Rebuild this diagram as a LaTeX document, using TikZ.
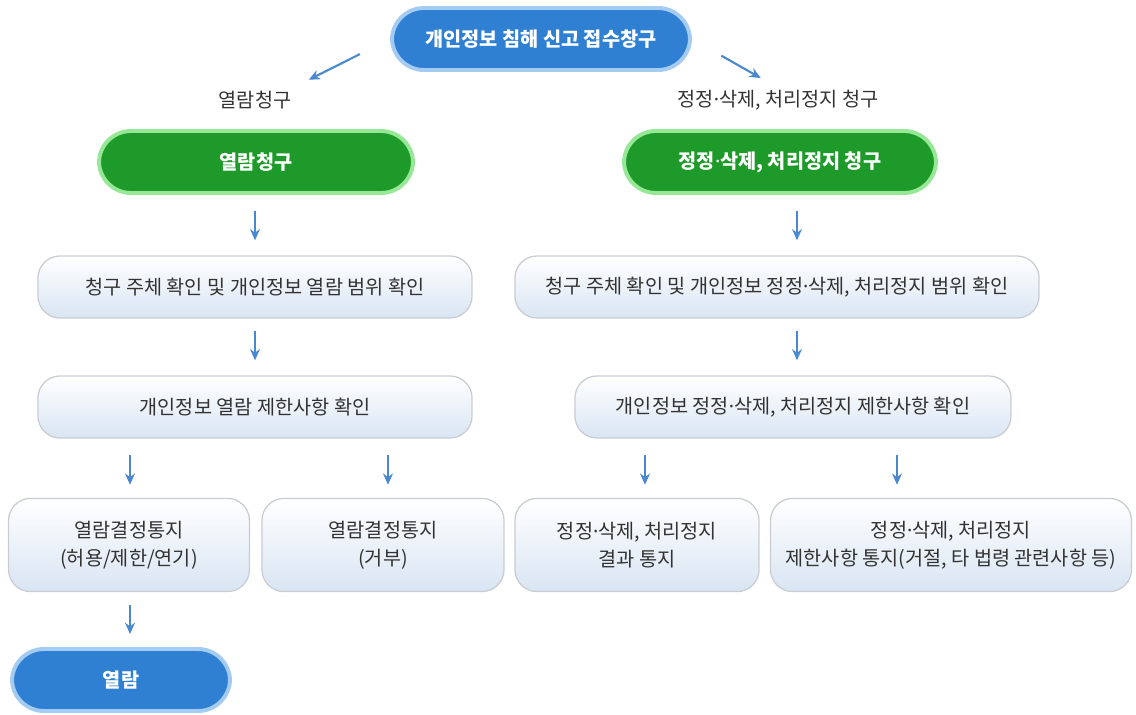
\documentclass[tikz,border=0pt]{standalone}
\usepackage{fontspec}
\setmainfont{Noto Sans CJK KR}
\newfontfamily\dotfont{Noto Sans}
\usepackage{xcolor}
\usetikzlibrary{positioning, arrows.meta, calc}

\definecolor{pillblue}{HTML}{2F80D2}
\definecolor{pillblueline}{HTML}{A4CCF2}
\definecolor{pillgreen}{HTML}{1E9A2A}
\definecolor{pillgreenline}{HTML}{96E896}
\definecolor{boxline}{HTML}{C9CDD3}
\definecolor{boxbottom}{HTML}{D9E5F3}
\definecolor{arrowblue}{HTML}{4A88D0}
\definecolor{txtgray}{HTML}{333333}

\newcommand{\mdot}{{\dotfont ·}}

\begin{document}
\begin{tikzpicture}[
  x=0.025cm, y=-0.025cm,
  >={Stealth[length=8pt,width=7pt]},
  bluepill/.style={draw=pillblueline, line width=2.8pt, fill=pillblue, rounded corners=0.8cm, minimum height=1.55cm, text=white, font=\fontsize{14}{16}\selectfont\bfseries},
  greenpill/.style={draw=pillgreenline, line width=2.8pt, fill=pillgreen, rounded corners=0.8cm, minimum height=1.55cm, text=white, font=\fontsize{14}{16}\selectfont\bfseries},
  stepbox/.style={draw=boxline, line width=0.9pt, top color=white, bottom color=boxbottom, rounded corners=0.55cm, minimum height=1.55cm, text=txtgray, align=center, font=\fontsize{14}{20}\selectfont},
  lbl/.style={text=txtgray, font=\fontsize{14}{16}\selectfont},
  arr/.style={->, arrowblue, line width=1.5pt}
]
\useasboundingbox (0,0) rectangle (1136,715);

% top
\node[bluepill, minimum width=7.45cm] (top) at (541,39) {개인정보 침해 신고 접수창구};
\node[lbl] (lblL) at (255,100) {열람청구};
\node[lbl] (lblR) at (778,100) {정정\mdot 삭제, 처리정지 청구};

% requests
\node[greenpill, minimum width=7.85cm] (gL) at (256,162) {열람청구};
\node[greenpill, minimum width=7.8cm] (gR) at (780,162) {정정\mdot 삭제, 처리정지 청구};

% checks
\node[stepbox, minimum width=10.85cm] (cL) at (255,287) {청구 주체 확인 및 개인정보 열람 범위 확인};
\node[stepbox, minimum width=13.1cm] (cR) at (777,287) {청구 주체 확인 및 개인정보 정정\mdot 삭제, 처리정지 범위 확인};
\node[stepbox, minimum width=10.85cm] (dL) at (255,407) {개인정보 열람 제한사항 확인};
\node[stepbox, minimum width=10.9cm] (dR) at (793,407) {개인정보 정정\mdot 삭제, 처리정지 제한사항 확인};

% notices
\node[stepbox, minimum width=6.02cm, minimum height=2.33cm] (e1) at (129,545) {열람결정통지\\(허용/제한/연기)};
\node[stepbox, minimum width=6.05cm, minimum height=2.33cm] (e2) at (383,545) {열람결정통지\\(거부)};
\node[stepbox, minimum width=6.1cm, minimum height=2.33cm] (e3) at (637,545) {정정\mdot 삭제, 처리정지\\결과 통지};
\node[stepbox, minimum width=9.02cm, minimum height=2.33cm] (e4) at (951,545) {정정\mdot 삭제, 처리정지\\제한사항 통지(거절, 타 법령 관련사항 등)};

\node[bluepill, minimum width=5.45cm] (f1) at (121,680) {열람};

% arrows
\draw[arr, shorten <=24pt, shorten >=10pt] (top.west) -- (lblL.north east);
\draw[arr, shorten <=24pt, shorten >=10pt] (top.east) -- ($(lblR.north)+(-5,0)$);
\draw[arr] ($(gL.south -| cL.north)+(0,16)$) -- ($(cL.north)+(0,-15)$);
\draw[arr] ($(gR.south)+(17,16)$) -- ($(cR.north)+(20,-15)$);
\draw[arr] ($(cL.south)+(0,12)$) -- ($(dL.north)+(0,-15)$);
\draw[arr] ($(cR.south)+(20,12)$) -- ($(dR.north)+(4,-15)$);
\draw[arr] ($(e1.north |- dL.south)+(1,16)$) -- ($(e1.north)+(1,-13)$);
\draw[arr] ($(e2.north |- dL.south)+(5,16)$) -- ($(e2.north)+(5,-13)$);
\draw[arr] ($(e3.north |- dR.south)+(8,16)$) -- ($(e3.north)+(8,-13)$);
\draw[arr] ($(dR.south)+(104,16)$) -- ($(e4.north)+(-54,-13)$);
\draw[arr] ($(e1.south)+(1,13)$) -- ($(f1.north)+(9,-13)$);
\end{tikzpicture}
\end{document}
